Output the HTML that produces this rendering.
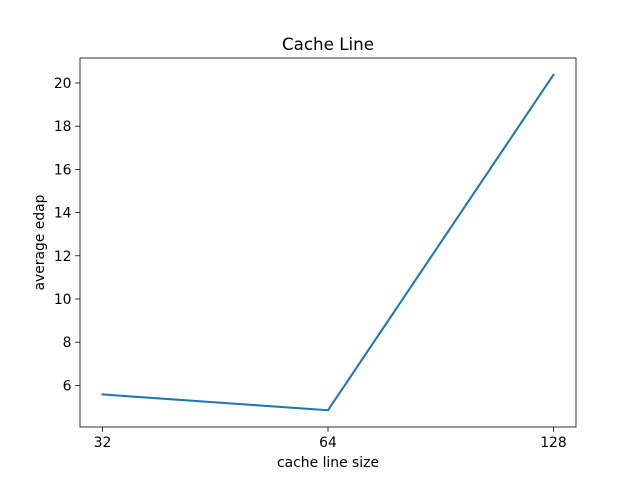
<!DOCTYPE html>
<html><head><meta charset="utf-8"><style>
body{margin:0;background:#fff;}
svg text{font-family:"DejaVu Sans","Liberation Sans",sans-serif;fill:#000;}
</style></head><body>
<svg id="chart" width="640" height="480" xmlns="http://www.w3.org/2000/svg">
<rect width="640" height="480" fill="#fff"/>
<text x="328" y="50" font-size="16.7" text-anchor="middle">Cache Line</text>
<text x="328" y="467" font-size="13.9" text-anchor="middle">cache line size</text>
<text transform="translate(44,242.5) rotate(-90)" font-size="13.9" text-anchor="middle">average edap</text>
<g id="ticks"></g>
<g id="series"></g>
<rect x="80" y="58" width="496" height="369" fill="none" stroke="#000" stroke-width="0.8"/>
</svg>
<script>
const categories = ["32", "64", "128"];
const values = [5.58, 4.85, 20.38];
const yTicks = [6, 8, 10, 12, 14, 16, 18, 20];

const L = 80, R = 576, T = 58, B = 427;
const xMin = -0.1, xMax = categories.length - 1 + 0.1;
const dMin = Math.min(...values), dMax = Math.max(...values);
const pad = (dMax - dMin) * 0.05;
const yMin = dMin - pad, yMax = dMax + pad;
function xs(i){ return L + (i - xMin) / (xMax - xMin) * (R - L); }
function ys(v){ return B - (v - yMin) / (yMax - yMin) * (B - T); }

const NS = "http://www.w3.org/2000/svg";
const tg = document.getElementById("ticks");
categories.forEach((c, i) => {
  const x = xs(i);
  const ln = document.createElementNS(NS, "line");
  ln.setAttribute("x1", x); ln.setAttribute("x2", x);
  ln.setAttribute("y1", B); ln.setAttribute("y2", B + 4.9);
  ln.setAttribute("stroke", "#000"); ln.setAttribute("stroke-width", "0.8");
  
  
  tg.appendChild(ln);
  const t = document.createElementNS(NS, "text");
  t.setAttribute("x", x); t.setAttribute("y", B + 20);
  t.setAttribute("font-size", "13.9"); t.setAttribute("text-anchor", "middle");
  t.textContent = c;
  
  
  tg.appendChild(t);
});
yTicks.forEach(v => {
  const y = ys(v);
  const ln = document.createElementNS(NS, "line");
  ln.setAttribute("x1", L - 4.9); ln.setAttribute("x2", L);
  ln.setAttribute("y1", y); ln.setAttribute("y2", y);
  ln.setAttribute("stroke", "#000"); ln.setAttribute("stroke-width", "0.8");
  
  
  tg.appendChild(ln);
  const t = document.createElementNS(NS, "text");
  t.setAttribute("x", L - 8.5); t.setAttribute("y", y + 5);
  t.setAttribute("font-size", "13.9"); t.setAttribute("text-anchor", "end");
  t.textContent = v;
  
  
  tg.appendChild(t);
});
const pl = document.createElementNS(NS, "polyline");
pl.setAttribute("points", values.map((v, i) => xs(i) + "," + ys(v)).join(" "));
pl.setAttribute("fill", "none"); pl.setAttribute("stroke", "#1f77b4");
pl.setAttribute("stroke-width", "2.08"); pl.setAttribute("stroke-linecap", "square");


document.getElementById("series").appendChild(pl);
</script>
</body></html>
